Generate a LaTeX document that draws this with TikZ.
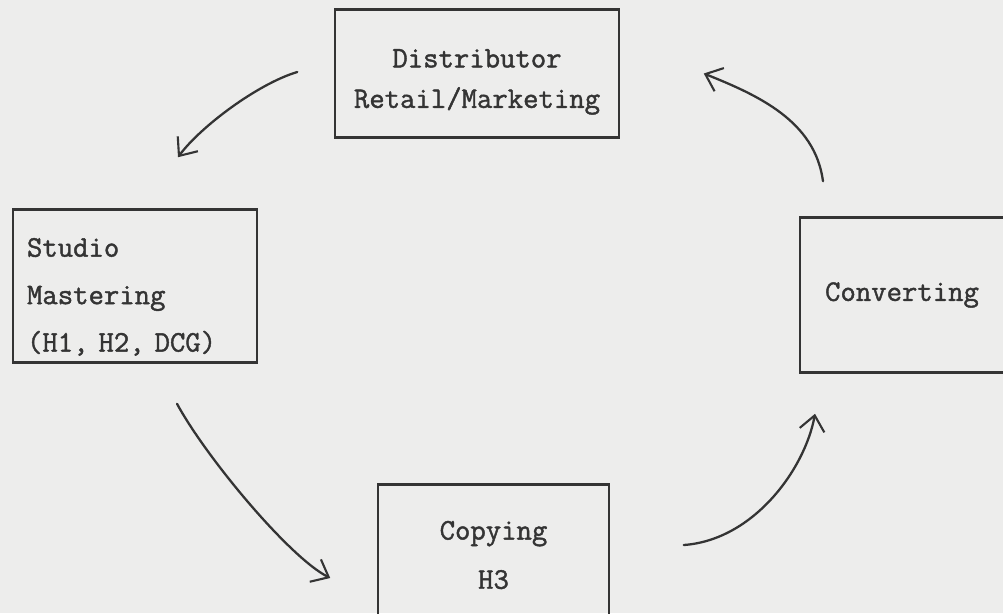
\documentclass[tikz,border=0pt]{standalone}
\usepackage{fontspec}
\usetikzlibrary{arrows.meta}

\newfontfamily\typer{Latin Modern Mono}[RawFeature={embolden=1.4}]
\definecolor{paper}{RGB}{237,237,236}
\definecolor{ink}{RGB}{52,52,52}

\tikzset{
  stage/.style={draw=ink, line width=0.9pt, text=ink, inner sep=0pt,
    font=\fontsize{17}{23}\selectfont\typer},
  rule/.style={draw=ink, line width=1.6pt},
  flow/.style={draw=ink, line width=1.3pt, line cap=round,
    -{Straight Barb[length=3mm,width=5mm,line width=1.2pt]}},
}

\begin{document}
\begin{tikzpicture}[x=0.02cm,y=-0.02cm]
  \useasboundingbox (0,0) rectangle (1003,613);
  \clip (0,0) rectangle (1003,613);
  \fill[paper] (0,0) rectangle (1003,613);

  % the four stages
  \node[stage, minimum width=5.68cm, minimum height=2.54cm, align=center]
    (dist) at (477,73.5) {\rule{0pt}{20pt}Distributor\\Retail/Marketing};
  \node[stage, text width=4.32cm, inner xsep=0.28cm, minimum height=3.04cm, align=left]
    (studio) at (135,286) {\rule{0pt}{23pt}Studio\\[4pt]Mastering\\[4pt](H1, H2, DCG)};
  \node[stage, minimum width=4.08cm, minimum height=3.08cm]
    (conv) at (902,295) {Converting};
  \node[stage, minimum width=4.62cm, minimum height=2.8cm, align=center]
    (copy) at (493.5,555) {Copying\\[5pt]H3};

  % typed top and bottom edges
  \foreach \b in {dist,studio,conv,copy} {
      \draw[rule] (\b.north west) -- (\b.north east);
      \draw[rule] (\b.south west) -- (\b.south east);
    }

  % the cycle
  \draw[flow] ([shift={(-37,-1.5)}]dist.west)
    .. controls +(-40,12) and +(22,-30) .. ([shift={(43,-52)}]studio.north);
  \draw[flow] ([shift={(42,41)}]studio.south)
    .. controls +(30,55) and +(-40,-20) .. ([shift={(-47,23)}]copy.west);
  \draw[flow] ([shift={(74,-10)}]copy.east)
    .. controls +(70,-5) and +(-10,55) .. ([shift={(-87,41)}]conv.south);
  \draw[flow] ([shift={(-79,-36)}]conv.north)
    .. controls +(-8,-60) and +(55,22) .. ([shift={(84,0)}]dist.east);
\end{tikzpicture}
\end{document}
